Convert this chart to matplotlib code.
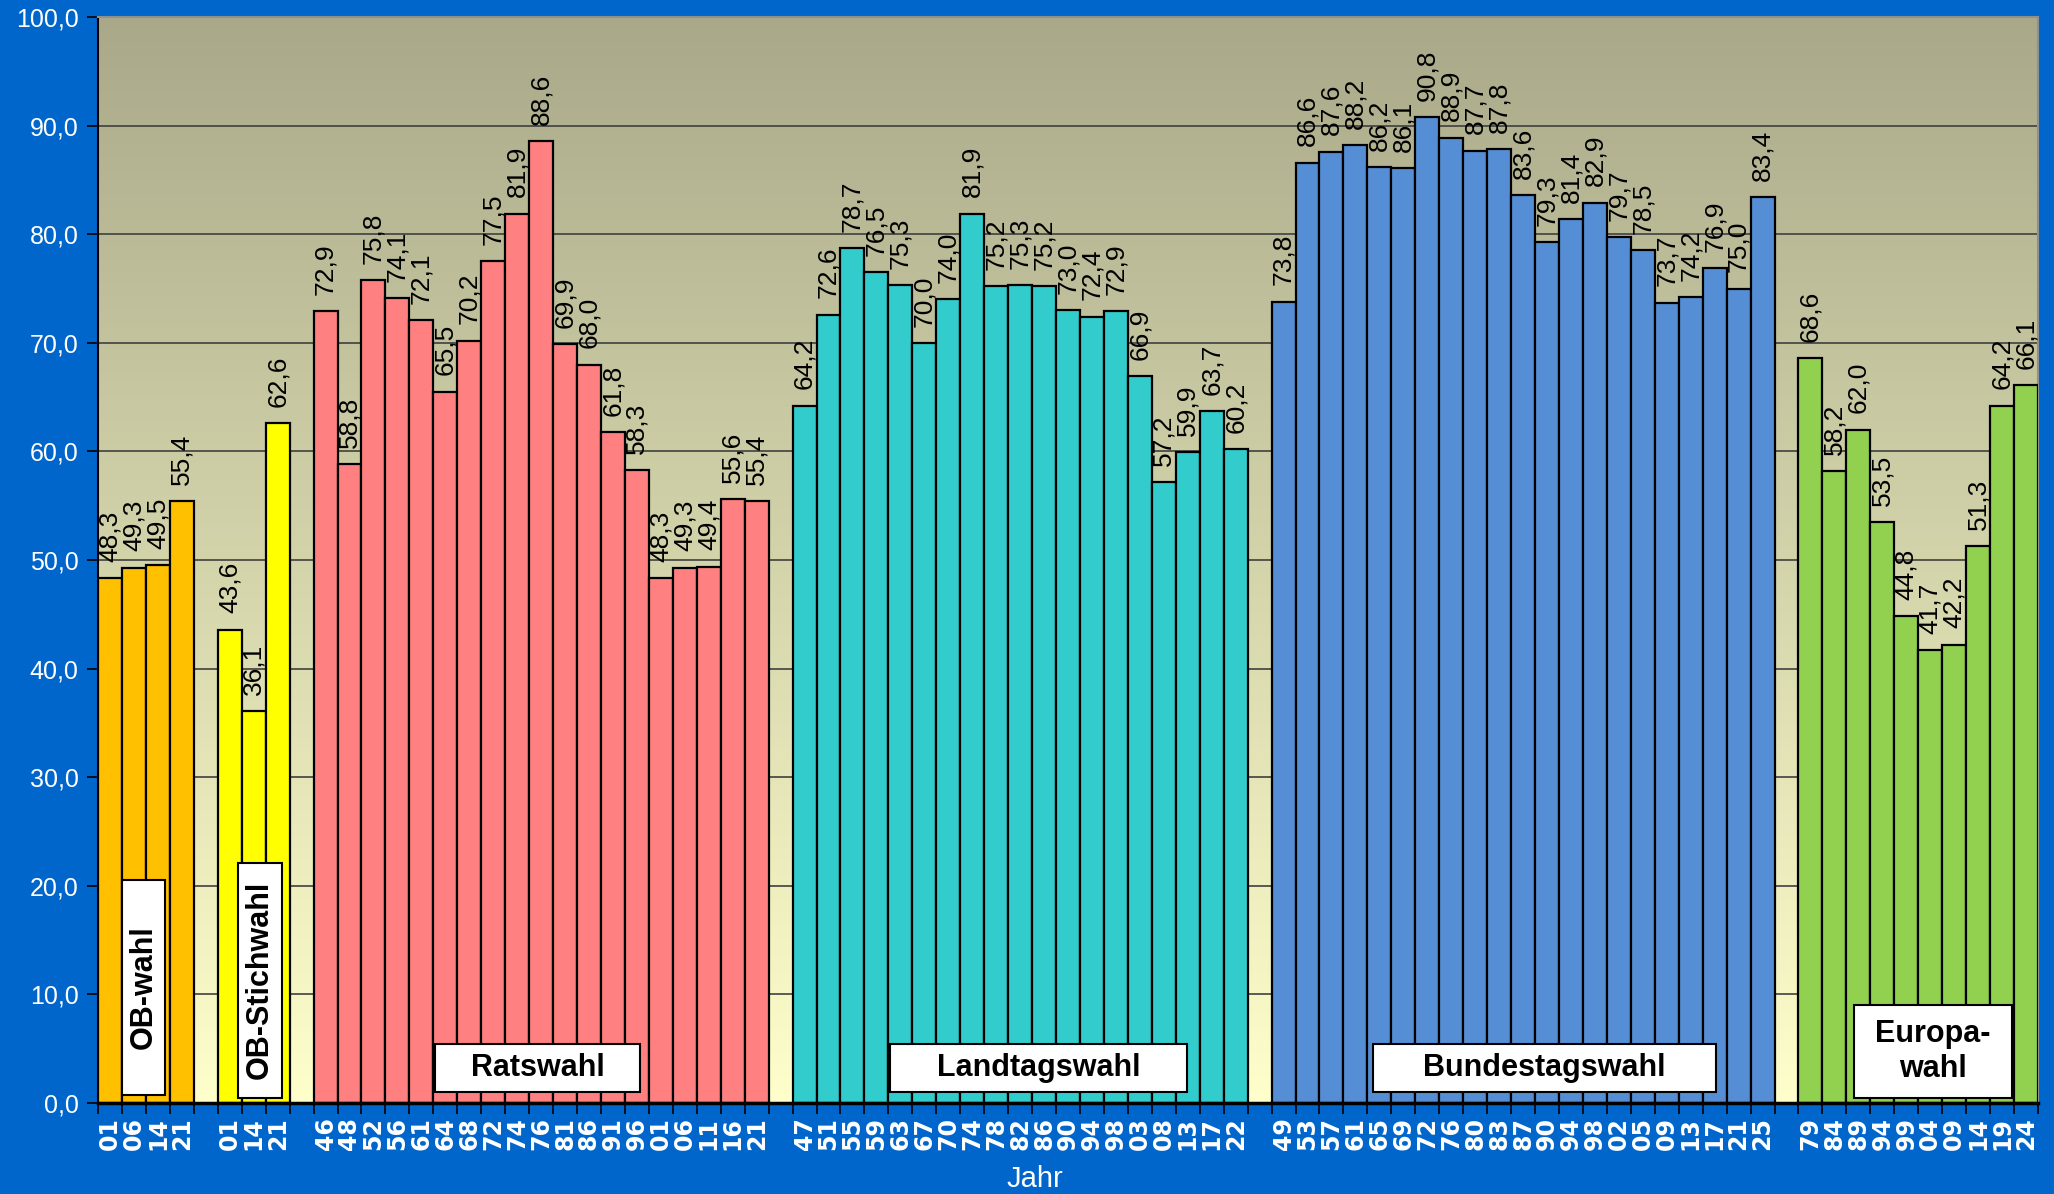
import numpy as np
import matplotlib
matplotlib.use("Agg")
import matplotlib.pyplot as plt
from matplotlib.patches import Rectangle
from matplotlib.colors import LinearSegmentedColormap

# Wahlbeteiligung in %, je Wahlart
ob_jahre = ["01", "06", "14", "21"]
ob_werte = [48.3, 49.3, 49.5, 55.4]

stich_jahre = ["01", "14", "21"]
stich_werte = [43.6, 36.1, 62.6]

rat_jahre = ["46", "48", "52", "56", "61", "64", "68", "72", "74", "76",
             "81", "86", "91", "96", "01", "06", "11", "16", "21"]
rat_werte = [72.9, 58.8, 75.8, 74.1, 72.1, 65.5, 70.2, 77.5, 81.9, 88.6,
             69.9, 68.0, 61.8, 58.3, 48.3, 49.3, 49.4, 55.6, 55.4]

land_jahre = ["47", "51", "55", "59", "63", "67", "70", "74", "78", "82",
              "86", "90", "94", "98", "03", "08", "13", "17", "22"]
land_werte = [64.2, 72.6, 78.7, 76.5, 75.3, 70.0, 74.0, 81.9, 75.2, 75.3,
              75.2, 73.0, 72.4, 72.9, 66.9, 57.2, 59.9, 63.7, 60.2]

bund_jahre = ["49", "53", "57", "61", "65", "69", "72", "76", "80", "83",
              "87", "90", "94", "98", "02", "05", "09", "13", "17", "21", "25"]
bund_werte = [73.8, 86.6, 87.6, 88.2, 86.2, 86.1, 90.8, 88.9, 87.7, 87.8,
              83.6, 79.3, 81.4, 82.9, 79.7, 78.5, 73.7, 74.2, 76.9, 75.0, 83.4]

euro_jahre = ["79", "84", "89", "94", "99", "04", "09", "14", "19", "24"]
euro_werte = [68.6, 58.2, 62.0, 53.5, 44.8, 41.7, 42.2, 51.3, 64.2, 66.1]

gruppen = [
    (ob_jahre, ob_werte, "#FFC000"),
    (stich_jahre, stich_werte, "#FFFF00"),
    (rat_jahre, rat_werte, "#FF8080"),
    (land_jahre, land_werte, "#33CCCC"),
    (bund_jahre, bund_werte, "#558ED5"),
    (euro_jahre, euro_werte, "#92D050"),
]

plt.rcParams['font.family'] = ['Liberation Sans', 'DejaVu Sans']

fig = plt.figure(figsize=(20.54, 11.94), dpi=100)
fig.patch.set_facecolor("#0066CC")
ax = fig.add_axes([98 / 2054, 1 - 1103 / 1194, 1940 / 2054, 1086 / 1194])

# Hintergrund-Verlauf
verlauf = LinearSegmentedColormap.from_list("bg", ["#FFFFCC", "#A9A98A"])
ax.imshow(np.linspace(0, 1, 256).reshape(-1, 1), cmap=verlauf, aspect="auto",
          extent=(-0.5, 80.5, 0, 100), origin="lower", zorder=0)

# Positionen mit einer Leerstelle zwischen den Gruppen
x_pos, labels = [], []
pos = 0
for jahre, werte, farbe in gruppen:
    xs = np.arange(pos, pos + len(jahre))
    ax.bar(xs, werte, width=1.0, color=farbe, edgecolor="black",
           linewidth=1.6, zorder=3)
    for x, v in zip(xs, werte):
        ax.text(x, v + 1.5, f"{v:.1f}".replace(".", ","), rotation=90,
                ha="center", va="bottom", fontsize=19, color="black", zorder=5)
    x_pos.extend(xs)
    labels.extend(jahre)
    pos += len(jahre) + 1

ax.set_xlim(-0.5, 80.5)
ax.set_ylim(0, 100)

ax.set_yticks(np.arange(0, 101, 10))
ax.set_yticklabels([f"{v:.1f}".replace(".", ",") for v in np.arange(0, 101, 10)],
                   fontsize=18, color="white")
ax.yaxis.grid(True, color="#404040", linewidth=1.2, zorder=1)
ax.set_axisbelow(True)

ax.set_xticks(x_pos)
ax.set_xticklabels(labels, rotation=90, fontsize=17, fontweight="bold",
                   color="white", family="DejaVu Sans")
ax.set_xticks(np.arange(-0.5, 81, 1), minor=True)
ax.tick_params(axis="x", which="major", length=0, pad=10)
ax.tick_params(axis="x", which="minor", length=8, width=1.2, color="black",
               direction="out")
ax.tick_params(axis="y", length=8, width=1.2, color="black", direction="out", pad=6)

for s in ["top", "right"]:
    ax.spines[s].set_color("#909090")
    ax.spines[s].set_linewidth(1.5)
ax.spines["left"].set_color("black")
ax.spines["left"].set_linewidth(1.5)
ax.spines["bottom"].set_color("black")
ax.spines["bottom"].set_linewidth(2.5)
ax.spines["bottom"].set_zorder(6)

# Beschriftungskästen der Wahlarten
kaesten = [
    ("OB-wahl", 0.49, 2.30, 0.75, 20.5, 90),
    ("OB-Stichwahl", 5.36, 7.17, 0.5, 22.1, 90),
    ("Ratswahl", 13.57, 22.13, 1.0, 5.45, 0),
    ("Landtagswahl", 32.55, 44.97, 1.0, 5.45, 0),
    ("Bundestagswahl", 52.73, 67.06, 1.0, 5.45, 0),
    ("Europa-\nwahl", 72.8, 79.43, 0.45, 9.0, 0),
]
for text, x0, x1, y0, y1, rot in kaesten:
    ax.add_patch(Rectangle((x0, y0), x1 - x0, y1 - y0, facecolor="white",
                           edgecolor="black", linewidth=1.5, zorder=7))
    ax.text((x0 + x1) / 2, (y0 + y1) / 2, text, rotation=rot, ha="center",
            va="center", fontsize=22, fontweight="bold", color="black",
            linespacing=1.2, zorder=8)

fig.text(1035 / 2054, 1 - 1179 / 1194, "Jahr", ha="center", va="center",
         fontsize=21, color="white")

fig.savefig("out.png", dpi=100, facecolor=fig.get_facecolor())
